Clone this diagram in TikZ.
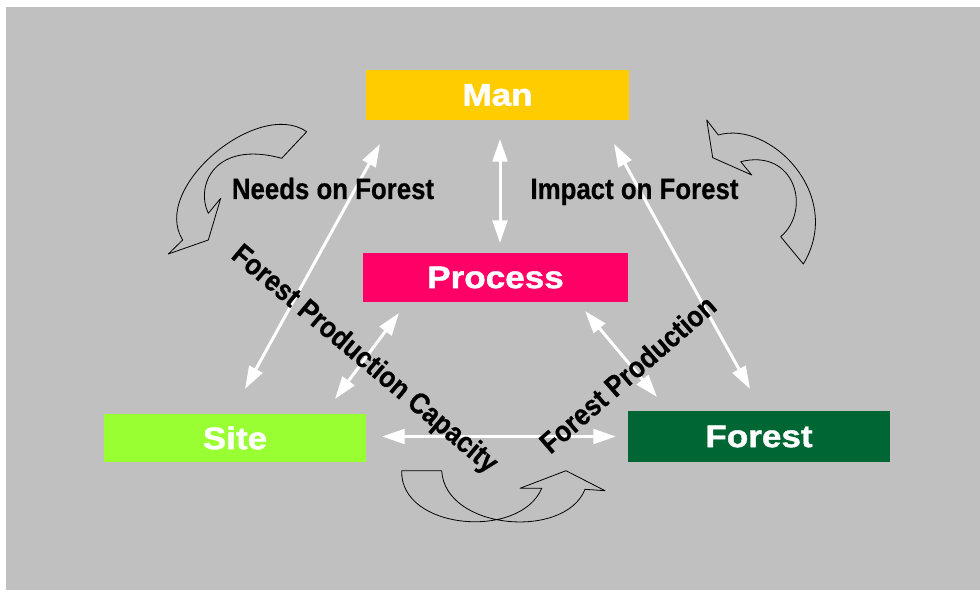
\documentclass[tikz,border=0pt]{standalone}
\usepackage{fontspec}
\setmainfont{Liberation Sans}
\newfontfamily\heavyfont[BoldFeatures={FakeBold=1.2}]{Liberation Sans}
\newfontfamily\labelfont[BoldFeatures={FakeBold=0.6}]{Liberation Sans}
\usetikzlibrary{arrows.meta}
\definecolor{bggrey}{HTML}{C0C0C0}
\definecolor{manyellow}{HTML}{FFCC00}
\definecolor{procpink}{HTML}{FF0066}
\definecolor{sitegreen}{HTML}{99FF33}
\definecolor{forestdark}{HTML}{006633}
\newcommand{\boxlbl}[1]{\scalebox{1.12}[1]{#1}}
\newcommand{\sidelbl}[1]{\scalebox{0.88}[1]{#1}}
\begin{document}
\begin{tikzpicture}[line cap=round,line join=round,>={Triangle[length=17pt,width=11pt]},x=0.75pt,y=-0.75pt,
    box/.style={rectangle,inner sep=0pt,text=white,font=\heavyfont\fontsize{23.5}{28}\selectfont\bfseries},
    lbl/.style={text=black,inner sep=0pt,font=\labelfont\fontsize{22}{26}\selectfont\bfseries},
    link/.style={<->,draw=white,line width=2.25pt},
    turn/.style={draw=black,line width=0.6pt}]
      \useasboundingbox (0,0) rectangle (980,591);
      \fill[white] (0,0) rectangle (980,591);
      \fill[bggrey] (6,7) rectangle (980,590);
      % boxes
      \node[box,fill=manyellow,minimum width=197.25pt,minimum height=37.5pt] (man) at (497.5,95) {\boxlbl{Man}};
      \node[box,fill=procpink,minimum width=198.75pt,minimum height=36.75pt] (process) at (495.5,277.5) {\boxlbl{Process}};
      \node[box,fill=sitegreen,minimum width=196.5pt,minimum height=36pt] (site) at (235,438) {\boxlbl{Site}};
      \node[box,fill=forestdark,minimum width=196.5pt,minimum height=38.25pt] (forest) at (759,436.5) {\boxlbl{Forest}};
      % arrow ends
      \coordinate (manL) at (380,144);
      \coordinate (siteT) at (245,389);
      \coordinate (manB) at (500,139);
      \coordinate (procT) at (500,243);
      \coordinate (manR) at (614,144);
      \coordinate (forestT) at (750,389);
      \coordinate (procL) at (399,313);
      \coordinate (siteR) at (335,399);
      \coordinate (procR) at (585,311);
      \coordinate (forestL) at (657,397);
      \coordinate (siteE) at (382,436.5);
      \coordinate (forestW) at (616,436.5);
      \draw[link] (manL) -- (siteT);
      \draw[link] (manB) -- (procT);
      \draw[link] (manR) -- (forestT);
      \draw[link] (procL) -- (siteR);
      \draw[link] (procR) -- (forestL);
      \draw[link] (siteE) -- (forestW);
      % curved block arrows
      \draw[turn] (306.7,131.7) .. controls (258,98) and (150,188) .. (182.7,240) -- (168.3,254) -- (208.3,240) -- (220.7,198.3) -- (208.3,213.3)
        .. controls (195,185) and (215,140) .. (281.7,158.3) -- cycle;
      \draw[turn] (706.7,120) -- (718.3,135) .. controls (770,120) and (845,195) .. (803.3,264) -- (780.7,236.7)
        .. controls (812,210) and (795,148) .. (740.7,161.7) -- (751.7,175) -- (712.7,157.7) -- cycle;
      \draw[turn] (401.7,470.7) .. controls (400,530) and (520,540) .. (541.7,488.3) -- (520,488.3) -- (566,470.7) -- (605,490.7) -- (585,489.3)
        .. controls (565,540) and (445,530) .. (441.7,470.7) -- cycle;
      % labels
      \node[lbl,anchor=base] (needs) at (333,199) {\sidelbl{Needs on Forest}};
      \node[lbl,anchor=base] (impact) at (634.5,199) {\sidelbl{Impact on Forest}};
      \node[lbl,rotate=-40] (capacity) at (364,360) {\sidelbl{Forest Production Capacity}};
      \node[lbl,rotate=41] (production) at (627.5,374) {\sidelbl{Forest Production}};
\end{tikzpicture}
\end{document}
